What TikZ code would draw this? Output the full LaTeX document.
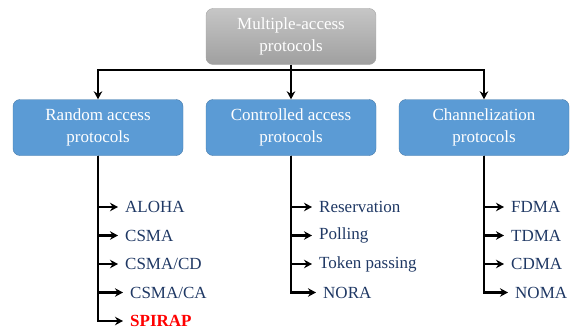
\documentclass[tikz,border=0pt]{standalone}
\usepackage{fontspec}
\setmainfont{Liberation Serif}
\usetikzlibrary{arrows.meta, positioning}
\usepackage{xcolor}
\definecolor{boxblue}{HTML}{5B9BD5}
\definecolor{itemblue}{HTML}{1F3864}

\begin{document}
\begin{tikzpicture}[x=1pt,y=-1pt,
    catbox/.style={draw=boxblue!80!black, line width=0.4pt, fill=boxblue, rounded corners=7pt,
        minimum width=170pt, minimum height=56pt, text=white, align=center,
        font=\fontsize{17}{22}\selectfont},
    item/.style={anchor=west, text=itemblue, inner sep=0pt,
        font=\fontsize{17}{20}\selectfont},
    wire/.style={line width=2.6pt},
    link/.style={line width=2.6pt, -{Stealth[length=8pt,width=8.5pt]}}]
    \useasboundingbox (0,0) rectangle (575,329);

    % top of the tree
    \node[catbox, draw=gray!70, fill=none, top color=gray!45, bottom color=gray!75] (mac) at (291,36.5) {Multiple-access\\protocols};

    \node[catbox] (rand) at (98,127.5) {Random access\\protocols};
    \node[catbox] (ctrl) at (291,127.5) {Controlled access\\protocols};
    \node[catbox] (chan) at (484,127.5) {Channelization\\protocols};

    \coordinate (bus) at (291,70);
    \draw[wire] (mac.south) -- (bus);
    \draw[wire, line cap=rect] (rand.north |- bus) -- (chan.north |- bus);
    \draw[link] (rand.north |- bus) -- (rand.north);
    \draw[link] (bus) -- (ctrl.north);
    \draw[link] (chan.north |- bus) -- (chan.north);

    % random access
    \foreach \y/\nm/\txt/\dx in {207/aloha/{ALOHA}/0, 235.5/csma/{CSMA}/0, 264/csmacd/{CSMA/CD}/0, 292.5/csmaca/{CSMA/CA}/5} {
        \node[item] (\nm) at (125+\dx,\y) {\txt};
        \draw[link, shorten >=7pt] (rand.south) |- (\nm.west);
    }
    \node[item, text=red, font=\fontsize{17}{20}\selectfont\bfseries] (spirap) at (130,321) {SPIRAP};
    \draw[link, shorten >=7pt] (rand.south) |- (spirap.west);

    % controlled access
    \foreach \y/\nm/\txt/\dx in {207/resv/{Reservation}/0, 235.5/poll/{Polling}/0, 264/token/{Token passing}/0, 292.5/nora/{NORA}/4} {
        \node[item] (\nm) at (319+\dx,\y) {\txt};
        \draw[link, shorten >=7pt] (ctrl.south) |- (\nm.west);
    }

    % channelization
    \foreach \y/\nm/\txt/\dx in {207/fdma/{FDMA}/0, 235.5/tdma/{TDMA}/0, 264/cdma/{CDMA}/0, 292.5/noma/{NOMA}/4} {
        \node[item] (\nm) at (511+\dx,\y) {\txt};
        \draw[link, shorten >=7pt] (chan.south) |- (\nm.west);
    }
\end{tikzpicture}
\end{document}
